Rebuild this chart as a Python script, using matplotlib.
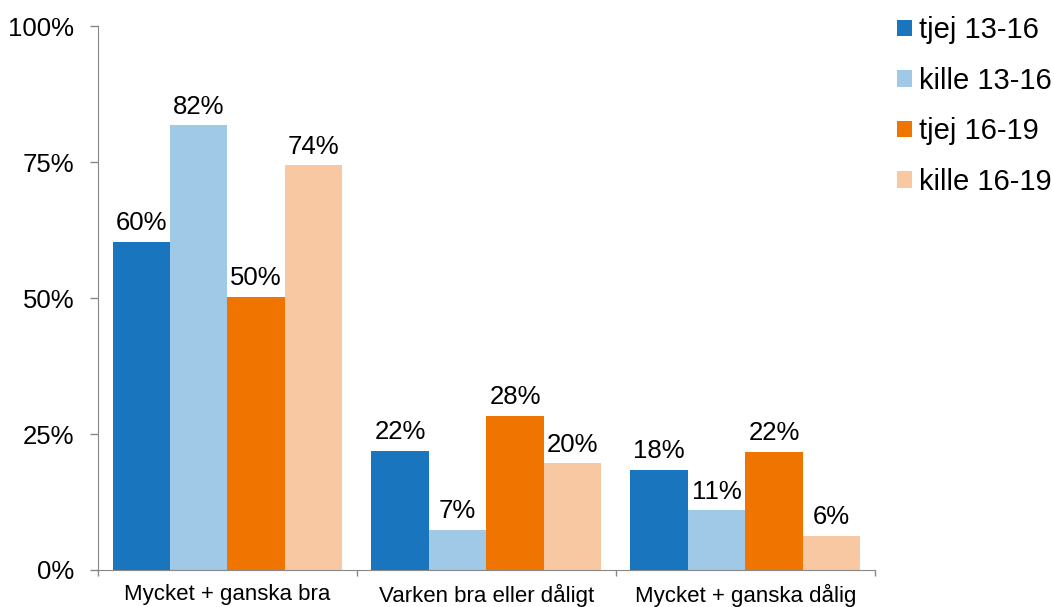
import matplotlib
matplotlib.use('Agg')
import matplotlib.pyplot as plt
import numpy as np

plt.rcParams['font.family'] = ['Liberation Sans', 'DejaVu Sans']

categories = ['Mycket + ganska bra', 'Varken bra eller dåligt', 'Mycket + ganska dålig']
series = ['tjej 13-16', 'kille 13-16', 'tjej 16-19', 'kille 16-19']
tjej_13_16 = [60.3, 21.9, 18.4]
kille_13_16 = [81.8, 7.4, 11.0]
tjej_16_19 = [50.2, 28.4, 21.7]
kille_16_19 = [74.4, 19.6, 6.3]
colors = ['#1a75bf', '#9fc9e7', '#ef7500', '#f7c8a2']

values = [tjej_13_16, kille_13_16, tjej_16_19, kille_16_19]

fig = plt.figure(figsize=(10.54, 6.07), dpi=100)
ax = fig.add_axes([0.093, 0.061, 0.737, 0.896])

x = np.arange(len(categories))
w = 0.222
for i, vals in enumerate(values):
    pos = x + (i - 1.5) * w
    bars = ax.bar(pos, vals, width=w, color=colors[i], label=series[i])
    for b, v in zip(bars, vals):
        ax.text(b.get_x() + b.get_width() / 2, v + 1.2, '%d%%' % round(v),
                ha='center', va='bottom', fontsize=18.5)

ax.set_xlim(-0.5, 2.5)
ax.set_ylim(0, 100)
ax.set_yticks([0, 25, 50, 75, 100])
ax.set_yticklabels(['0%', '25%', '50%', '75%', '100%'], fontsize=18.5)
ax.set_xticks(x)
ax.set_xticklabels(categories, fontsize=16)
ax.set_xticks([-0.5, 0.5, 1.5, 2.5], minor=True)
ax.tick_params(axis='x', which='major', length=0, pad=10)
ax.tick_params(axis='x', which='minor', length=4.5, color='#888888', width=1)
ax.tick_params(axis='y', length=6, color='#888888', width=1, pad=11)

for s in ['top', 'right']:
    ax.spines[s].set_visible(False)
for s in ['left', 'bottom']:
    ax.spines[s].set_color('#888888')

ax.legend(loc='upper left', bbox_to_anchor=(0.851, 0.973), bbox_transform=fig.transFigure,
          frameon=False, fontsize=21, borderpad=0, borderaxespad=0,
          handlelength=0.51, handleheight=0.51, handletextpad=0.24,
          labelspacing=0.77)

plt.savefig('out.png', dpi=100)
